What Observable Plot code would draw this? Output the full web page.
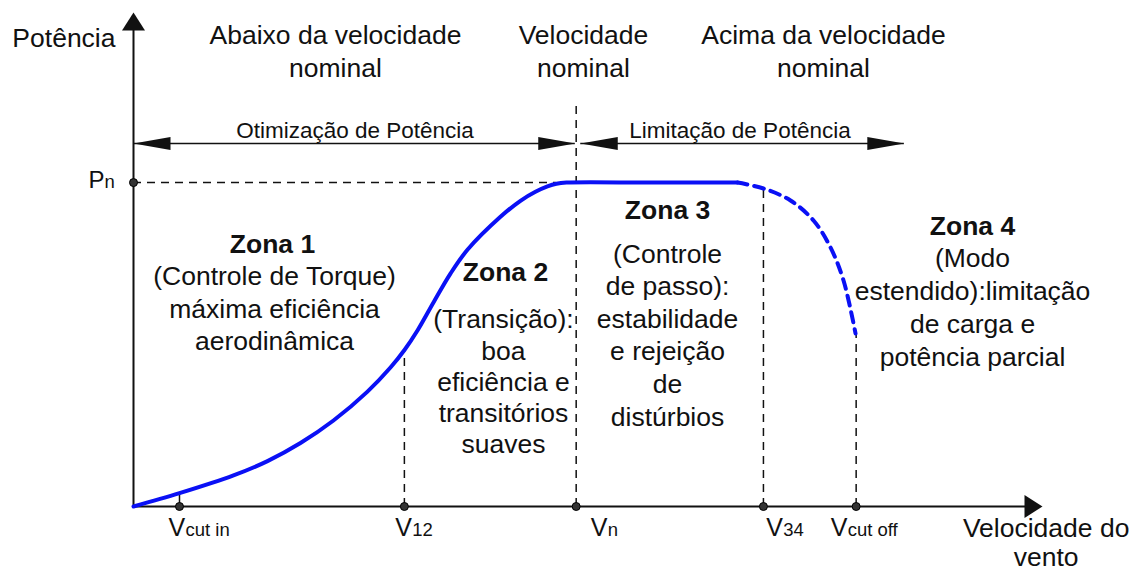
<!DOCTYPE html>
<html>
<head>
<meta charset="utf-8">
<script src="https://cdn.jsdelivr.net/npm/d3@7"></script>
<script src="https://cdn.jsdelivr.net/npm/@observablehq/plot@0.6"></script>
<style>
  html, body { margin: 0; padding: 0; background: #fff; }
  svg { display: block; }
</style>
</head>
<body>
<div id="chart"></div>
<script>
// ---- Data (abstract units: wind speed 0..100, power in % of Pn) ----
const Pn = 100;
const tickNames = ["cut in", "12", "n", "34", "cut off"];
const tickValues = [5.06, 29.8, 48.7, 69.3, 79.5];
const tickLabelX = [3.85, 28.8, 50.3, 69.6, 76.7];
const guideTop = [4.1, 48.2, 124.4, 98.8, 53.4];

const speedSolid = [0, 5.06, 11.0, 14.74, 18.37, 22.0, 25.74, 28.27, 29.81, 31.24, 33.0, 34.87, 36.74, 40.37, 42.57, 44.22, 45.54, 46.53, 47.63, 57, 66.45];
const powerSolid = [0, 4.11, 9.60, 14.02, 19.60, 26.55, 35.47, 42.91, 48.31, 54.33, 62.98, 71.90, 79.25, 89.43, 94.37, 97.15, 98.82, 99.65, 100, 100, 100];
const speedDashed = [66.45, 69.31, 72.28, 74.81, 76.68, 78.11, 79.43];
const powerDashed = [100, 98.17, 94.46, 88.29, 79.95, 69.77, 53.41];

const headerTexts = ["Abaixo da velocidade\nnominal", "Velocidade\nnominal", "Acima da velocidade\nnominal"];
const headerX = [22.22, 49.5, 75.91];
const headerY = 132.6;

const rangeLabels = ["Otimização de Potência", "Limitação de Potência"];
const rangeLabelX = [24.37, 66.72];
const rangeY = 112.06;
const rangeLabelY = 113.9;
const rangeStart = [0, 49.2];
const rangeEnd = [48.6, 84.8];

const zoneTitles = ["Zona 1", "Zona 2", "Zona 3", "Zona 4"];
const zoneTitleX = [15.29, 40.92, 58.75, 92.3];
const zoneTitleY = [78.41, 69.46, 88.6, 83.66];
const zoneBodies = [
  "(Controle de Torque)\nmáxima eficiência\naerodinâmica",
  "(Transição):\nboa\neficiência e\ntransitórios\nsuaves",
  "(Controle\nde passo):\nestabilidade\ne rejeição\nde\ndistúrbios",
  "(Modo\nestendido):limitação\nde carga e\npotência parcial"
];
const zoneBodyX = [15.51, 40.70, 58.75, 92.3];
const zoneBodyY = [48.16, 16.67, 25.0, 43.53];
const zoneLineHeights = [1.23, 1.17, 1.23, 1.235];

const yAxisLabel = "Potência";
const xAxisLabel = "Velocidade do\nvento";

// ---- Build tables ----
const curveSolid = speedSolid.map((s, i) => ({s, p: powerSolid[i]}));
const curveDashed = speedDashed.map((s, i) => ({s, p: powerDashed[i]}));
const ticks = tickNames.map((name, i) => ({name, v: tickValues[i], lx: tickLabelX[i], top: guideTop[i]}));
const headers = headerTexts.map((t, i) => ({t, x: headerX[i]}));
const ranges = rangeLabels.map((t, i) => ({t, x: rangeLabelX[i], a: rangeStart[i], b: rangeEnd[i]}));
const heads = ranges.flatMap(r => [{x: r.a, rot: 180}, {x: r.b, rot: 0}]);

const ink = "#111";
const blue = "#0a10f5";
const longHead = {draw(ctx) { ctx.moveTo(0, 0); ctx.lineTo(-37, -6.5); ctx.lineTo(-37, 6.5); ctx.closePath(); }};
const axisHead = {draw(ctx) { ctx.moveTo(0, 0); ctx.lineTo(-18, -11.5); ctx.lineTo(-18, 11.5); ctx.closePath(); }};

const big = 26.5;
const dash = "8,6";

const marks = [
  // axes
  Plot.ruleX([0], {y1: 0, y2: 150, stroke: ink, strokeWidth: 2}),
  Plot.ruleY([0], {x1: 0, x2: 99, stroke: ink, strokeWidth: 2}),
  Plot.dot([{x: 0, y: 152.5}], {x: "x", y: "y", symbol: axisHead, r: 5, fill: ink, stroke: "none", rotate: -90}),
  Plot.dot([{x: 100, y: 0}], {x: "x", y: "y", symbol: axisHead, r: 5, fill: ink, stroke: "none", rotate: 0}),
  // Pn dashed reference
  Plot.ruleY([Pn], {x1: 0, x2: 46.5, stroke: ink, strokeWidth: 1.5, strokeDasharray: dash}),
  // vertical guides
  Plot.ruleX(ticks.filter(d => d.name === "cut in"), {x: "v", y1: 0, y2: "top", stroke: ink, strokeWidth: 1.5}),
  Plot.ruleX(ticks.filter(d => d.name !== "cut in"), {x: "v", y1: 0, y2: "top", stroke: ink, strokeWidth: 1.5, strokeDasharray: dash}),
  // range arrows
  Plot.ruleY(ranges, {y: rangeY, x1: "a", x2: "b", stroke: ink, strokeWidth: 1.5}),
  Plot.dot(heads, {x: "x", y: rangeY, symbol: longHead, r: 5, fill: ink, stroke: "none", rotate: "rot"}),
  // power curve
  Plot.line(curveSolid, {x: "s", y: "p", stroke: blue, strokeWidth: 4, curve: "catmull-rom"}),
  Plot.line(curveDashed, {x: "s", y: "p", stroke: blue, strokeWidth: 4, curve: "catmull-rom", strokeDasharray: "10,7"}),
  // dots on axes
  Plot.dot(ticks, {x: "v", y: 0, r: 4, fill: "#333", stroke: "#000", strokeWidth: 1}),
  Plot.dot([Pn], {x: 0, y: d => d, r: 4, fill: "#333", stroke: "#000", strokeWidth: 1}),
  // tick labels V + subscript
  Plot.text(ticks, {x: "lx", y: -9.26, text: () => "V", textAnchor: "start", lineAnchor: "bottom", fontSize: 25, fill: ink}),
  Plot.text(ticks, {x: "lx", y: -9.26, text: "name", textAnchor: "start", lineAnchor: "bottom", fontSize: 18.5, dx: 17, fill: ink}),
  // Pn label
  Plot.text([Pn], {x: -4.95, y: d => d - 1.55, text: () => "P", textAnchor: "start", lineAnchor: "bottom", fontSize: 24, fill: ink}),
  Plot.text([Pn], {x: -4.95, y: d => d - 1.55, text: () => "n", textAnchor: "start", lineAnchor: "bottom", fontSize: 18.5, dx: 16, fill: ink}),
  // axis labels
  Plot.text([yAxisLabel], {x: -1.98, y: 141.8, text: d => d, textAnchor: "end", lineAnchor: "bottom", fontSize: big, fill: ink}),
  Plot.text([xAxisLabel], {x: 100.4, y: -18.52, text: d => d, textAnchor: "middle", lineAnchor: "bottom", fontSize: big, lineHeight: 1.1, fill: ink}),
  // headers
  Plot.text(headers, {x: "x", y: headerY, text: "t", textAnchor: "middle", lineAnchor: "bottom", fontSize: big, lineHeight: 1.245, fill: ink}),
  // range labels
  Plot.text(ranges, {x: "x", y: rangeLabelY, text: "t", textAnchor: "middle", lineAnchor: "bottom", fontSize: 22.5, fill: ink}),
  // zone titles
  Plot.text(zoneTitles, {x: (d, i) => zoneTitleX[i], y: (d, i) => zoneTitleY[i], text: d => d, textAnchor: "middle", lineAnchor: "bottom", fontSize: big, fontWeight: "bold", fill: ink}),
  // zone bodies
  ...zoneBodies.map((b, i) => Plot.text([b], {x: zoneBodyX[i], y: zoneBodyY[i], text: d => d, textAnchor: "middle", lineAnchor: "bottom", fontSize: big, lineHeight: zoneLineHeights[i], fill: ink}))
];

const chart = Plot.plot({
  width: 1139,
  height: 573,
  marginTop: 12,
  marginBottom: 67,
  marginLeft: 133,
  marginRight: 97,
  x: {domain: [0, 100], axis: null},
  y: {domain: [0, 152.5], axis: null},
  style: {fontFamily: "'Liberation Sans', Arial, Helvetica, sans-serif", background: "#fff", color: ink},
  marks
});
document.getElementById("chart").appendChild(chart);
</script>
</body>
</html>
